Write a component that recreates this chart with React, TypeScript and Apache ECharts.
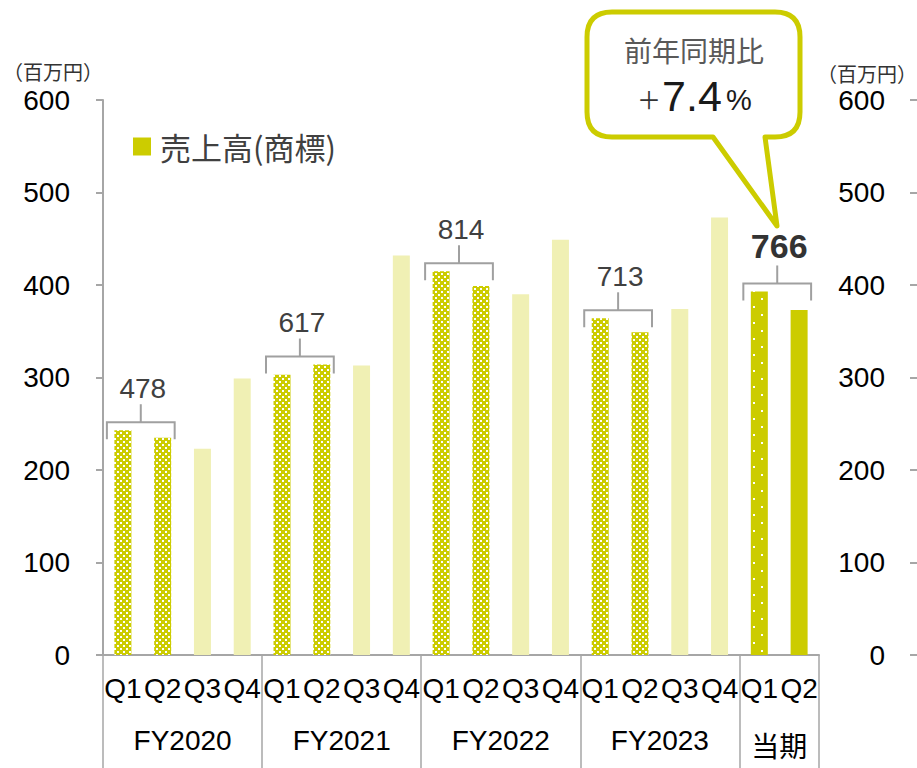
import React, { useEffect, useRef } from 'react';
import * as echarts from 'echarts';

// ---- data ----
const quarters = ['Q1', 'Q2', 'Q3', 'Q4', 'Q1', 'Q2', 'Q3', 'Q4', 'Q1', 'Q2', 'Q3', 'Q4', 'Q1', 'Q2', 'Q3', 'Q4', 'Q1', 'Q2'];
const periods = ['FY2020', 'FY2021', 'FY2022', 'FY2023', '当期'];
const periodQuarterCounts = [4, 4, 4, 4, 2];
const sales = [243, 235, 223, 299, 303, 314, 313, 432, 415, 399, 390, 449, 364, 349, 374, 473, 393, 373];
const halfYearTotals = [478, 617, 814, 713, 766];
const seriesName = '売上高(商標)';
const unitLabel = '（百万円）';
const yMin = 0;
const yMax = 600;
const yInterval = 100;
const calloutTitle = '前年同期比';
const calloutSign = '＋';
const calloutValue = '7.4';
const calloutUnit = '%';

const YG = '#cccc00';
const LIGHT = '#f0f0b4';
const GRAY = '#a6a6a6';
const FONT = "'Liberation Sans', Arial, 'Noto Sans CJK JP', sans-serif";
const CJK = "'Noto Sans CJK JP', 'Liberation Sans', sans-serif";

function makeTile(w: number, h: number, draw: (ctx: CanvasRenderingContext2D) => void) {
  const c = document.createElement('canvas');
  c.width = w;
  c.height = h;
  const ctx = c.getContext('2d')!;
  draw(ctx);
  return c;
}

export default function App() {
  const ref = useRef<HTMLDivElement>(null);

  useEffect(() => {
    document.body.style.margin = '0';
    if (!ref.current) return;

    const checker = makeTile(6, 6, (ctx) => {
      ctx.fillStyle = YG;
      ctx.fillRect(0, 0, 6, 6);
      ctx.fillStyle = '#ffffff';
      ctx.fillRect(0, 0, 2, 2);
      ctx.fillRect(3, 3, 2, 2);
    });
    const dots = makeTile(16, 16, (ctx) => {
      ctx.fillStyle = YG;
      ctx.fillRect(0, 0, 16, 16);
      ctx.fillStyle = '#ffffff';
      ctx.fillRect(1, 2, 2, 2);
      ctx.fillRect(9, 10, 2, 2);
    });
    const checkerPattern = { image: checker, repeat: 'repeat' };
    const dotPattern = { image: dots, repeat: 'repeat' };

    const groupOf: number[] = [];
    const groupStart: number[] = [];
    let idx = 0;
    periodQuarterCounts.forEach((n, g) => {
      groupStart.push(idx);
      for (let k = 0; k < n; k++) groupOf.push(g);
      idx += n;
    });
    const total = idx;
    const lastGroup = periods.length - 1;

    const barData = sales.map((v, i) => {
      const g = groupOf[i];
      const q = quarters[i];
      let color: any;
      if (g === lastGroup) color = q === 'Q1' ? dotPattern : YG;
      else color = q === 'Q1' || q === 'Q2' ? checkerPattern : LIGHT;
      return { value: v, itemStyle: { color } };
    });

    const bracketData = periods.map((_, g) => {
      const s = groupStart[g];
      return [s, Math.max(sales[s], sales[s + 1]), halfYearTotals[g], g === lastGroup ? 1 : 0];
    });

    const groupAxisData: string[] = new Array(total + 1).fill('');
    const groupBoundaries = new Set<number>();
    periods.forEach((p, g) => {
      const s = groupStart[g];
      const n = periodQuarterCounts[g];
      groupBoundaries.add(s);
      groupBoundaries.add(s + n);
      groupAxisData[s + n / 2] = p;
    });

    const d =
      'M612 12 H775 Q800 12 800 37 V112 Q800 137 775 137 H765 L777 226 L713 137 H612 Q587 137 587 112 V37 Q587 12 612 12 Z';
    echarts.graphic.registerShape('callout', echarts.graphic.extendPath(d, {}));

    const chart = echarts.init(ref.current, null, { renderer: 'svg' });
    const option: any = {
      animation: false,
      grid: { left: 103, right: 98, top: 100, bottom: 113, containLabel: false, outerBoundsMode: 'none' },
      legend: {
        left: 128,
        top: 126,
        itemWidth: 18,
        itemHeight: 18,
        icon: 'rect',
        selectedMode: false,
        data: [{ name: seriesName, itemStyle: { color: YG } }],
        textStyle: { fontSize: 31, color: '#404040', fontFamily: CJK, padding: [0, 0, 0, 4] },
      },
      xAxis: [
        {
          type: 'category',
          position: 'bottom',
          data: quarters,
          axisLine: { lineStyle: { color: GRAY, width: 2 } },
          axisTick: { length: 51, lineStyle: { color: '#b4b4b4', width: 1.5 } },
          axisLabel: { margin: 19, fontSize: 28, color: '#000', fontFamily: FONT, interval: 0 },
        },
        {
          type: 'category',
          position: 'bottom',
          boundaryGap: false,
          data: groupAxisData,
          axisLine: { show: false },
          axisTick: {
            length: 115,
            interval: (i: number) => groupBoundaries.has(i),
            lineStyle: { color: GRAY, width: 1.5 },
          },
          axisLabel: {
            interval: 0,
            margin: 71,
            fontSize: 28,
            color: '#000',
            fontFamily: FONT,
            formatter: (v: string) => (v === periods[lastGroup] ? '{cur|' + v + '}' : v),
            rich: { cur: { fontSize: 28, fontFamily: CJK, color: '#000', padding: [5, 0, 0, 0] } },
          },
        },
      ],
      yAxis: [
        {
          type: 'value',
          min: yMin,
          max: yMax,
          interval: yInterval,
          position: 'left',
          name: unitLabel,
          nameLocation: 'end',
          nameGap: 19,
          nameTextStyle: { align: 'right', fontSize: 20, color: '#333', fontFamily: CJK, padding: [0, 0, 0, 0] },
          splitLine: { show: false },
          axisLine: { show: true, lineStyle: { color: GRAY, width: 2 } },
          axisTick: { show: true, length: 7, lineStyle: { color: GRAY, width: 2 } },
          axisLabel: { margin: 33, fontSize: 28, color: '#000', fontFamily: FONT },
        },
        {
          type: 'value',
          min: yMin,
          max: yMax,
          interval: yInterval,
          position: 'right',
          offset: 98,
          name: unitLabel,
          nameLocation: 'end',
          nameGap: 17,
          nameTextStyle: { align: 'right', fontSize: 20, color: '#333', fontFamily: CJK, padding: [0, 0, 0, 0] },
          splitLine: { show: false },
          axisLine: { show: false },
          axisTick: { show: true, inside: true, length: 7, lineStyle: { color: GRAY, width: 2 } },
          axisLabel: { inside: true, margin: 32, fontSize: 28, color: '#000', fontFamily: FONT },
        },
      ],
      series: [
        {
          name: seriesName,
          type: 'bar',
          xAxisIndex: 0,
          yAxisIndex: 0,
          barWidth: 17,
          data: barData,
          silent: true,
        },
        {
          name: 'brackets',
          type: 'custom',
          xAxisIndex: 0,
          yAxisIndex: 0,
          silent: true,
          data: bracketData,
          renderItem: (_params: any, api: any) => {
            const i = api.value(0);
            const top = api.value(1);
            const label = api.value(2);
            const isCurrent = api.value(3) === 1;
            const p1 = api.coord([i, top]);
            const p2 = api.coord([i + 1, top]);
            const y = p1[1] - 8;
            const xl = p1[0] - 16;
            const xr = p2[0] + 12;
            const xc = (xl + xr) / 2;
            const stemTop = y - 18;
            const lineStyle = { stroke: '#a0a0a0', lineWidth: 2, fill: 'none' };
            return {
              type: 'group',
              children: [
                {
                  type: 'polyline',
                  shape: { points: [[xl, y + 17], [xl, y], [xr, y], [xr, y + 17]] },
                  style: lineStyle,
                },
                { type: 'line', shape: { x1: xc, y1: y, x2: xc, y2: stemTop }, style: lineStyle },
                {
                  type: 'text',
                  x: xc + 2,
                  y: stemTop - (isCurrent ? 19 : 16),
                  style: {
                    text: String(label),
                    fontSize: isCurrent ? 34 : 28,
                    fontWeight: isCurrent ? 'bold' : 'normal',
                    fontFamily: FONT,
                    fill: isCurrent ? '#333' : '#404040',
                    align: 'center',
                    textAlign: 'center',
                    verticalAlign: 'middle',
                    textVerticalAlign: 'middle',
                  },
                },
              ],
            };
          },
        },
      ],
      graphic: [
        {
          type: 'callout',
          x: 0,
          y: 0,
          shape: {},
          style: { fill: '#ffffff', stroke: YG, lineWidth: 5, lineJoin: 'round' },
          silent: true,
        },
        {
          type: 'text',
          x: 694,
          y: 50,
          style: {
            text: calloutTitle,
            fontSize: 28,
            fontFamily: CJK,
            fill: '#595959',
            align: 'center',
            textAlign: 'center',
            verticalAlign: 'middle',
            textVerticalAlign: 'middle',
          },
        },
        {
          type: 'text',
          x: 649,
          y: 98,
          style: {
            text: calloutSign,
            fontSize: 24,
            fontFamily: CJK,
            fill: '#333',
            align: 'center',
            textAlign: 'center',
            verticalAlign: 'middle',
            textVerticalAlign: 'middle',
          },
        },
        {
          type: 'text',
          x: 692,
          y: 96,
          style: {
            text: calloutValue,
            fontSize: 43,
            fontFamily: FONT,
            fill: '#1a1a1a',
            align: 'center',
            textAlign: 'center',
            verticalAlign: 'middle',
            textVerticalAlign: 'middle',
          },
        },
        {
          type: 'text',
          x: 739,
          y: 100,
          style: {
            text: calloutUnit,
            fontSize: 29,
            fontFamily: FONT,
            fill: '#1a1a1a',
            align: 'center',
            textAlign: 'center',
            verticalAlign: 'middle',
            textVerticalAlign: 'middle',
          },
        },
      ],
    };
    chart.setOption(option);
    return () => chart.dispose();
  }, []);

  return <div ref={ref} style={{ width: 917, height: 768 }} />;
}
